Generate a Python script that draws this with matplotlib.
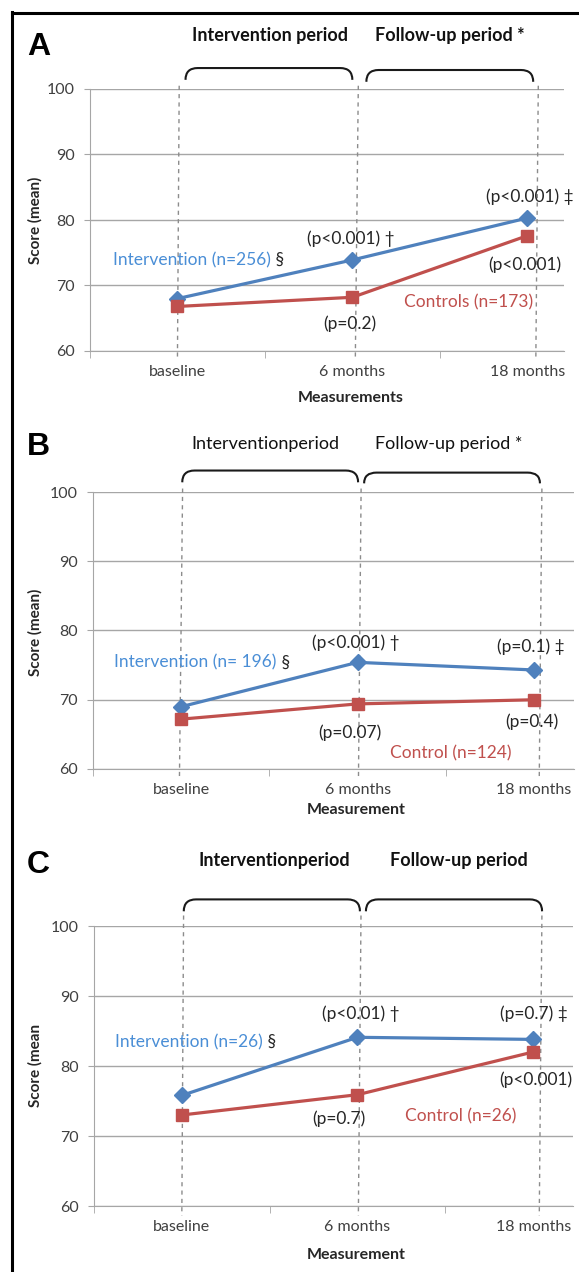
import matplotlib.pyplot as plt
from matplotlib.path import Path
from matplotlib.patches import PathPatch
from matplotlib.lines import Line2D

plt.rcParams['font.family'] = ['Lato', 'DejaVu Sans']

# values
categories = ['baseline', '6 months', '18 months']
y_ticks = [60, 70, 80, 90, 100]

a_intervention = [68.0, 73.9, 80.3]
a_controls = [66.8, 68.2, 77.6]
b_intervention = [69.0, 75.4, 74.3]
b_control = [67.2, 69.4, 70.0]
c_intervention = [75.8, 84.1, 83.8]
c_control = [73.0, 75.9, 82.0]

BLUE = '#4F81BD'
BLUE_TXT = '#4A8ED6'
RED = '#C0504D'
GRID = '#a6a6a6'
DASH = '#8c8c8c'
TXT = '#262626'
NOTE_FS = 12.5

W, H = 579, 1272
fig = plt.figure(figsize=(W / 100, H / 100), dpi=100)


def px_rect(left, right, top, bottom):
    return [left / W, 1 - bottom / H, (right - left) / W, (bottom - top) / H]


def brace(ax, x0, x1, y_top, y_end, r=0.07):
    verts = [(x0, y_end), (x0, y_top), (x0 + r, y_top),
             (x1 - r, y_top), (x1, y_top), (x1, y_end)]
    codes = [Path.MOVETO, Path.CURVE3, Path.CURVE3,
             Path.LINETO, Path.CURVE3, Path.CURVE3]
    ax.add_patch(PathPatch(Path(verts, codes), fill=False, lw=1.5,
                           ec='#1a1a1a', clip_on=False))


def draw_panel(rect, xmax, interv, ctrl, headers, head_weight, braces, guides, notes):
    ax = fig.add_axes(rect)
    x = range(len(categories))
    ax.set_xlim(-0.5, xmax)
    ax.set_ylim(60, 100)

    # dashed guide lines at the time points
    for gx, gy0, gy1 in guides:
        ax.plot([gx[0], gx[1]], [gy0, gy1], ls=(0, (3, 3)), color=DASH,
                lw=1.0, clip_on=False, zorder=1)

    ax.plot(x, interv, color=BLUE, lw=2.3, marker='D', ms=8.5, zorder=3, clip_on=False)
    ax.plot(x, ctrl, color=RED, lw=2.3, marker='s', ms=9, zorder=3, clip_on=False)

    ax.set_yticks(y_ticks)
    ax.yaxis.grid(True, color=GRID, lw=1)
    ax.set_axisbelow(True)
    ax.set_xticks(list(x))
    ax.set_xticklabels(categories)
    ax.set_xticks([-0.5, 0.5, 1.5], minor=True)
    ax.tick_params(axis='x', which='major', length=0, pad=10, labelsize=11.5, labelcolor='#404040')
    ax.tick_params(axis='x', which='minor', length=5, color=GRID)
    ax.tick_params(axis='y', length=4, pad=7, color=GRID, labelsize=11.5, labelcolor='#404040')
    for s in ['top', 'right']:
        ax.spines[s].set_visible(False)
    for s in ['left', 'bottom']:
        ax.spines[s].set_color(GRID)

    for (txt, hx, hy) in headers:
        ax.text(hx, hy, txt, ha='center', va='center', fontsize=13,
                fontweight=head_weight, color='#111111', clip_on=False)
    for b in braces:
        brace(ax, *b)

    for txt, nx, ny, kind in notes:
        if kind == 'blue':
            t = ax.text(nx, ny, txt, ha='left', va='center', fontsize=NOTE_FS, color=BLUE_TXT)
            ax.annotate(' §', xy=(1, 0.5), xycoords=t, ha='left', va='center',
                        fontsize=NOTE_FS, color=TXT)
        elif kind == 'red':
            ax.text(nx, ny, txt, ha='center', va='center', fontsize=NOTE_FS, color=RED)
        else:
            ax.text(nx, ny, txt, ha='center', va='center', fontsize=NOTE_FS, color=TXT)
    return ax


# panel A
draw_panel(px_rect(90, 564, 89, 351), 2.21, a_intervention, a_controls,
           [('Intervention period', 0.53, 108.2), ('Follow-up period *', 1.56, 108.2)], 'bold',
           [(0.046, 1.0, 103.2, 101.4), (1.08, 2.034, 102.9, 101.1)],
           [((0.01, 0.0), 100.5, 58.9), ((1.034, 1.017), 100.5, 58.9), ((2.063, 2.049), 100.5, 58.9)],
           [('(p<0.001) †', 0.994, 77.1, 'k'),
            ('Intervention (n=256)', -0.366, 73.9, 'blue'),
            ('(p<0.001) ‡', 2.017, 83.5, 'k'),
            ('(p<0.001)', 1.986, 73.1, 'k'),
            ('Controls (n=173)', 1.666, 67.5, 'red'),
            ('(p=0.2)', 0.983, 64.1, 'k')])

# panel B
draw_panel(px_rect(93, 574, 492, 769), 2.227, b_intervention, b_control,
           [('Interventionperiod', 0.48, 107.0), ('Follow-up period *', 1.518, 107.0)], 'normal',
           [(0.006, 1.003, 103.1, 101.4), (1.037, 2.034, 102.8, 101.25)],
           [((0.008, -0.01), 100.5, 58.5), ((1.02, 1.005), 100.5, 58.5), ((2.045, 2.03), 100.5, 58.5)],
           [('(p<0.001) †', 0.99, 78.2, 'k'),
            ('Intervention (n= 196)', -0.38, 75.4, 'blue'),
            ('(p=0.1) ‡', 1.983, 77.6, 'k'),
            ('(p=0.07)', 0.957, 65.2, 'k'),
            ('(p=0.4)', 1.99, 66.8, 'k'),
            ('Control (n=124)', 1.527, 62.3, 'red')])

# panel C
draw_panel(px_rect(94, 573, 926, 1206), 2.227, c_intervention, c_control,
           [('Interventionperiod', 0.527, 109.4), ('Follow-up period', 1.575, 109.4)], 'bold',
           [(0.011, 1.014, 103.8, 102.1), (1.048, 2.051, 103.8, 102.1)],
           [((0.01, 0.0), 101.5, 58.6), ((1.02, 1.005), 101.5, 58.6), ((2.05, 2.035), 101.5, 58.6)],
           [('(p<0.01) †', 1.02, 87.4, 'k'),
            ('(p=0.7) ‡', 2.006, 87.4, 'k'),
            ('Intervention (n=26)', -0.38, 83.4, 'blue'),
            ('(p<0.001)', 2.014, 78.1, 'k'),
            ('(p=0.7)', 0.892, 72.4, 'k'),
            ('Control (n=26)', 1.589, 72.8, 'red')])

# panel letters, axis titles
for letter, ly in [('A', 47), ('B', 447), ('C', 865)]:
    fig.text(27 / W, 1 - ly / H, letter, fontsize=23, fontweight='bold',
             family=['Liberation Sans', 'DejaVu Sans'], ha='left', va='center')
for lab, ly in [('Score (mean)', 220), ('Score (mean)', 632), ('Score (mean', 1065)]:
    fig.text(35 / W, 1 - ly / H, lab, rotation=90, fontsize=11, fontweight='bold',
             ha='center', va='center', color=TXT)
for lab, lx, ly in [('Measurements', 351, 398), ('Measurement', 356, 810), ('Measurement', 356, 1255)]:
    fig.text(lx / W, 1 - ly / H, lab, fontsize=11.5, fontweight='bold',
             ha='center', va='center', color=TXT)

# black frame on the left and top
fig.add_artist(Line2D([12 / W, 12 / W], [0, 1 - 12 / H], color='black', lw=2.2))
fig.add_artist(Line2D([12 / W, 1], [1 - 13 / H, 1 - 13 / H], color='black', lw=2.2))

fig.savefig('out.png', dpi=100)
